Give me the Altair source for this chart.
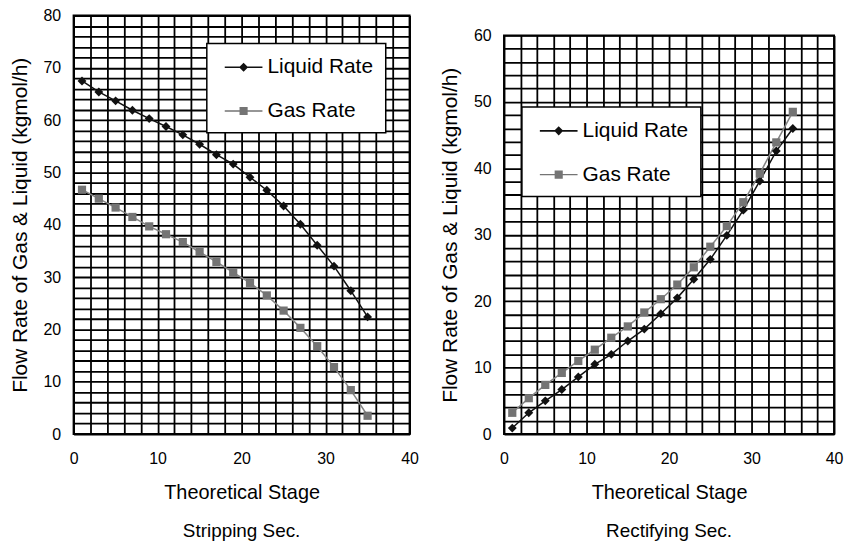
import altair as alt
import pandas as pd

stages = list(range(1, 36, 2))
series_names = ["Liquid Rate", "Gas Rate"]
series_colors = ["#111111", "#747474"]
line_colors = ["#111111", "#858585"]

strip_liquid = [67.5, 65.4, 63.7, 61.9, 60.3, 58.8, 57.2, 55.4, 53.4, 51.6,
                49.1, 46.6, 43.6, 40.1, 36.1, 32.1, 27.4, 22.4]
strip_gas = [46.7, 45.0, 43.3, 41.5, 39.7, 38.2, 36.7, 34.8, 32.9, 30.9,
             28.9, 26.5, 23.6, 20.3, 16.8, 12.8, 8.4, 3.5]

rect_liquid = [0.9, 3.2, 5.0, 6.7, 8.6, 10.5, 12.0, 14.0, 15.8, 18.1,
               20.5, 23.3, 26.3, 29.9, 33.7, 38.1, 42.6, 46.0]
rect_gas = [3.2, 5.4, 7.4, 9.2, 11.0, 12.7, 14.5, 16.2, 18.3, 20.3,
            22.5, 25.1, 28.2, 31.3, 34.9, 39.2, 43.9, 48.5]

# legend symbols: line with marker (unit coords, 1 unit = 12 px)
legend_shapes = [
    "M-1.58,-0.065H1.58V0.065H-1.58Z M-0.38,0L0,-0.38L0.38,0L0,0.38Z",
    "M-1.58,-0.055H1.58V0.055H-1.58Z M-0.34,-0.34H0.34V0.34H-0.34Z",
]

FONT = "Liberation Sans"


def make_df(liq, gas):
    rows = []
    for s, l, g in zip(stages, liq, gas):
        rows.append({"stage": s, "rate": l, "series": series_names[0]})
        rows.append({"stage": s, "rate": g, "series": series_names[1]})
    return pd.DataFrame(rows)


def panel(df, ymax, title, legend_x, legend_y, width, height):
    color_scale = alt.Scale(domain=series_names, range=series_colors)
    shape_scale = alt.Scale(domain=series_names, range=legend_shapes)
    x = alt.X("stage:Q",
              scale=alt.Scale(domain=[0, 40], nice=False),
              axis=alt.Axis(values=list(range(0, 41, 2)),
                            labelExpr="datum.value % 10 == 0 ? datum.label : ''",
                            labelOverlap=False, labelFlush=False,
                            grid=True, gridColor="black", gridWidth=1.8, gridOpacity=1,
                            ticks=False, domain=False,
                            labelFontSize=16, labelPadding=17, labelColor="black",
                            title="Theoretical Stage", titleFontSize=20,
                            titleFontWeight="normal", titlePadding=16,
                            titleColor="black"))
    y = alt.Y("rate:Q",
              scale=alt.Scale(domain=[0, ymax], nice=False),
              axis=alt.Axis(values=list(range(0, ymax + 1, 2)),
                            labelExpr="datum.value % 10 == 0 ? datum.label : ''",
                            labelOverlap=False, labelFlush=False,
                            grid=True, gridColor="black", gridWidth=1.8, gridOpacity=1,
                            ticks=False, domain=False,
                            labelFontSize=16, labelPadding=13, labelColor="black",
                            title="Flow Rate of Gas & Liquid (kgmol/h)",
                            titleFontSize=21, titleFontWeight="normal",
                            titlePadding=13, titleColor="black"))
    base = alt.Chart(df)
    liq = base.transform_filter(alt.datum.series == series_names[0])
    gas = base.transform_filter(alt.datum.series == series_names[1])
    liq_line = liq.mark_line(strokeWidth=1.5, color=line_colors[0]).encode(x=x, y=y)
    gas_line = gas.mark_line(strokeWidth=1.5, color=line_colors[1]).encode(x=x, y=y)
    liq_pts = liq.mark_point(shape="diamond", filled=True, size=80, opacity=1,
                             color=series_colors[0]).encode(x=x, y=y)
    gas_pts = gas.mark_point(shape="square", filled=True, size=68, opacity=1,
                             color=series_colors[1]).encode(x=x, y=y)
    leg = alt.Legend(title=None, orient="none", legendX=legend_x, legendY=legend_y,
                     fillColor="white", strokeColor="black", padding=12,
                     symbolSize=576, symbolStrokeWidth=0, symbolOpacity=1,
                     labelFontSize=21, labelOffset=12, rowPadding=22,
                     symbolOffset=13, labelColor="black")
    legend_layer = base.transform_filter("datum.stage < 0").mark_point(
        filled=True, opacity=1).encode(
        x=x, y=y,
        color=alt.Color("series:N", scale=color_scale, legend=leg),
        shape=alt.Shape("series:N", scale=shape_scale, legend=leg))
    return alt.layer(liq_line, gas_line, liq_pts, gas_pts, legend_layer).properties(
        width=width, height=height,
        title=alt.TitleParams(title, orient="bottom", fontSize=19,
                              fontWeight="normal", offset=20, color="black"))


left = panel(make_df(strip_liquid, strip_gas), 80, "Stripping Sec.", 134, 28,
             338, 421)
right = panel(make_df(rect_liquid, rect_gas), 60, "Rectifying Sec.", 18, 72,
              332, 401)

spacer = alt.Chart(pd.DataFrame({"v": [0]})).mark_point(size=0, opacity=0).encode(
    x=alt.value(0), y=alt.value(0)
).properties(width=1, height=2, view=alt.ViewBackground(stroke="transparent"))

right_col = alt.vconcat(spacer, right, spacing=8).resolve_scale(
    color="independent", shape="independent"
).resolve_legend(color="independent", shape="independent")

chart = alt.hconcat(left, right_col, spacing=19).resolve_scale(
    color="independent", shape="independent"
).resolve_legend(color="independent", shape="independent").properties(
    padding={"left": 0, "top": -3, "right": 0, "bottom": 0}
).configure(font=FONT).configure_view(
    stroke="black", strokeWidth=2
).configure_legend(strokeWidth=1.5)

chart.save("out.html", embed_options={"renderer": "svg", "actions": False})
